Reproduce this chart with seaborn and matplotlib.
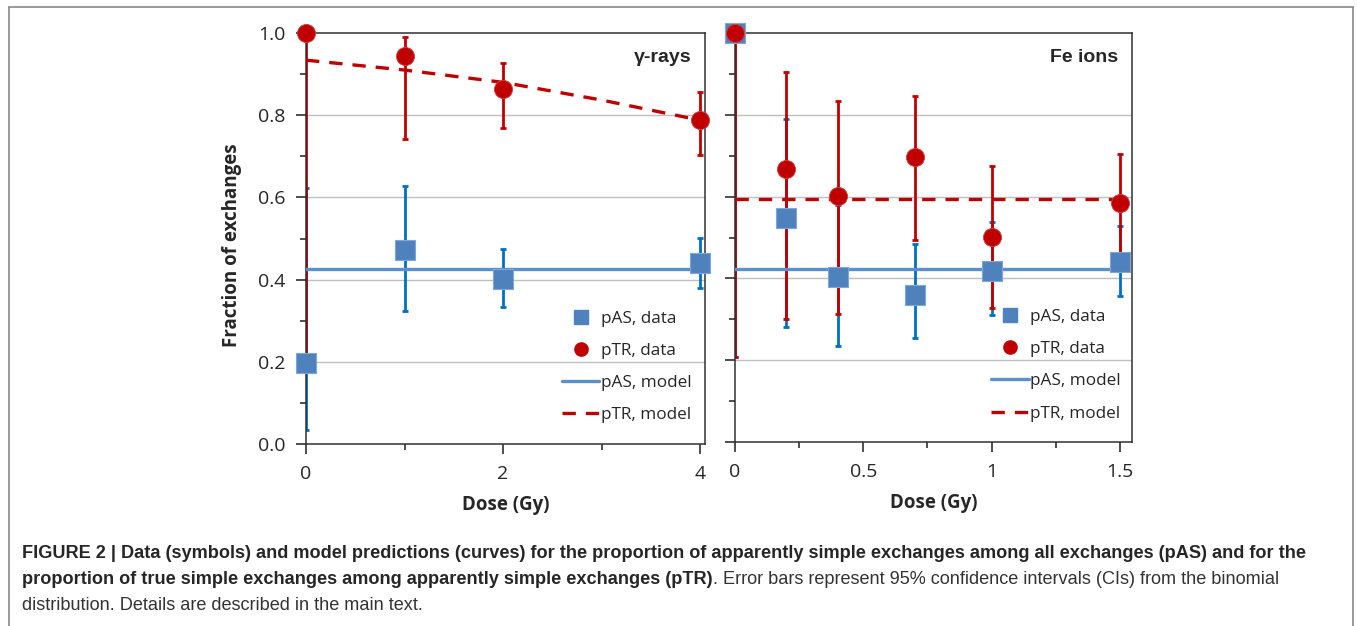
import numpy as np
import pandas as pd
import seaborn as sns
import matplotlib.pyplot as plt
from matplotlib.lines import Line2D
from matplotlib.ticker import MultipleLocator

# gamma-rays panel
gamma_dose = [0, 1, 2, 4]
gamma_pas = [0.198, 0.472, 0.401, 0.440]
gamma_pas_lo = [0.034, 0.324, 0.333, 0.379]
gamma_pas_hi = [0.624, 0.628, 0.474, 0.502]
gamma_ptr = [1.0, 0.945, 0.864, 0.788]
gamma_ptr_lo = [0.215, 0.741, 0.768, 0.703]
gamma_ptr_hi = [1.0, 0.990, 0.926, 0.856]
gamma_model_dose = [0, 1, 2, 3, 4]
gamma_pas_model = [0.425, 0.425, 0.425, 0.425, 0.425]
gamma_ptr_model = [0.934, 0.910, 0.880, 0.837, 0.788]

# Fe ions panel
fe_dose = [0, 0.2, 0.4, 0.7, 1.0, 1.5]
fe_pas = [1.0, 0.548, 0.403, 0.360, 0.419, 0.441]
fe_pas_lo = [0.208, 0.281, 0.235, 0.254, 0.310, 0.357]
fe_pas_hi = [1.0, 0.790, 0.580, 0.484, 0.539, 0.529]
fe_ptr = [1.0, 0.667, 0.602, 0.698, 0.501, 0.584]
fe_ptr_lo = [0.208, 0.300, 0.313, 0.494, 0.327, 0.440]
fe_ptr_hi = [1.0, 0.905, 0.834, 0.846, 0.676, 0.704]
fe_model_dose = [0, 1.5]
fe_pas_model = [0.422, 0.422]
fe_ptr_model = [0.594, 0.594]

BLUE_MARK = "#4F81BD"
BLUE_ERR = "#0070C0"
BLUE_LINE = "#5B8FD0"
RED = "#C00000"

sns.set_style("white")
plt.rcParams["font.family"] = ["Open Sans", "DejaVu Sans"]

fig = plt.figure(figsize=(13.57, 6.26), dpi=100)
ax1 = fig.add_axes([0.2255, 0.2907, 0.294, 0.6565])
ax2 = fig.add_axes([0.5416, 0.2939, 0.2926, 0.6534])


def draw_panel(ax, dose, pas, pas_lo, pas_hi, ptr, ptr_lo, ptr_hi,
               mdose, pas_model, ptr_model):
    for y in [0.2, 0.4, 0.6, 0.8]:
        ax.axhline(y, color="#BFBFBF", lw=1, zorder=0)
    pas = np.array(pas)
    ptr = np.array(ptr)
    ax.errorbar(dose, pas, yerr=[pas - np.array(pas_lo), np.array(pas_hi) - pas],
                fmt="none", ecolor=BLUE_ERR, elinewidth=2, capsize=2.5,
                capthick=2, zorder=2)
    ax.errorbar(dose, ptr, yerr=[ptr - np.array(ptr_lo), np.array(ptr_hi) - ptr],
                fmt="none", ecolor=RED, elinewidth=2, capsize=2.5,
                capthick=2, zorder=2)
    mdf = pd.DataFrame({"dose": mdose, "pas": pas_model, "ptr": ptr_model})
    sns.lineplot(data=mdf, x="dose", y="pas", ax=ax, color=BLUE_LINE, lw=2.4,
                 zorder=3)
    sns.lineplot(data=mdf, x="dose", y="ptr", ax=ax, color=RED, lw=2.4,
                 zorder=3).lines[-1].set_dashes((4, 3))
    ddf = pd.DataFrame({"dose": dose, "pas": pas, "ptr": ptr})
    sns.scatterplot(data=ddf, x="dose", y="pas", ax=ax, marker="s", s=200,
                    color=BLUE_MARK, edgecolor="#7EA6D8", linewidth=0.8,
                    zorder=4, clip_on=False)
    sns.scatterplot(data=ddf, x="dose", y="ptr", ax=ax, marker="o", s=170,
                    color=RED, edgecolor="#D04040", linewidth=0.6,
                    zorder=5, clip_on=False)
    ax.set_ylim(0, 1.0)
    ax.yaxis.set_major_locator(MultipleLocator(0.2))
    ax.yaxis.set_minor_locator(MultipleLocator(0.1))
    ax.tick_params(axis="both", which="major", direction="out", length=7,
                   width=1.2, color="#303030", labelsize=14, pad=8)
    ax.tick_params(axis="both", which="minor", direction="out", length=4,
                   width=1.2, color="#303030")
    ax.tick_params(axis="y", which="both", left=True)
    ax.tick_params(axis="x", which="both", bottom=True)
    for sp in ax.spines.values():
        sp.set_color("#303030")
        sp.set_linewidth(1.1)
    ax.set_xlabel("Dose (Gy)", fontsize=13.5, fontweight="bold", labelpad=9)
    ax.set_ylabel("")

    handles = [
        Line2D([], [], ls="none", marker="s", ms=9.5, color=BLUE_MARK),
        Line2D([], [], ls="none", marker="o", ms=9.5, color=RED),
        Line2D([], [], color=BLUE_LINE, lw=2.4),
        Line2D([], [], color=RED, lw=2.4, dashes=(4, 3)),
    ]
    labels = ["pAS, data", "pTR, data", "pAS, model", "pTR, model"]
    return handles, labels


legend_kw = dict(loc="lower right", frameon=False, fontsize=12.3,
                 handlelength=2.2, handletextpad=0.1, labelspacing=0.95,
                 borderpad=0, borderaxespad=0)

h, l = draw_panel(ax1, gamma_dose, gamma_pas, gamma_pas_lo, gamma_pas_hi,
                  gamma_ptr, gamma_ptr_lo, gamma_ptr_hi,
                  gamma_model_dose, gamma_pas_model, gamma_ptr_model)
ax1.set_xlim(0, 4.05)
ax1.xaxis.set_major_locator(MultipleLocator(2))
ax1.xaxis.set_minor_locator(MultipleLocator(1))
ax1.xaxis.set_major_formatter(plt.FuncFormatter(lambda v, p: f"{v:g}"))
ax1.yaxis.set_major_formatter(plt.FormatStrFormatter("%.1f"))
ax1.set_ylabel("Fraction of exchanges", fontsize=13.5, fontweight="bold")
ax1.yaxis.set_label_coords(-0.16, 0.485)
ax1.text(0.965, 0.96, "γ-rays", transform=ax1.transAxes, ha="right",
         va="top", fontsize=14, fontweight="bold", family="Liberation Sans")
ax1.legend(h, l, bbox_to_anchor=(0.967, 0.05), **legend_kw)

h, l = draw_panel(ax2, fe_dose, fe_pas, fe_pas_lo, fe_pas_hi,
                  fe_ptr, fe_ptr_lo, fe_ptr_hi,
                  fe_model_dose, fe_pas_model, fe_ptr_model)
ax2.set_xlim(0, 1.547)
ax2.xaxis.set_major_locator(MultipleLocator(0.5))
ax2.xaxis.set_minor_locator(MultipleLocator(0.25))
ax2.xaxis.set_major_formatter(plt.FuncFormatter(lambda v, p: f"{v:g}"))
ax2.tick_params(axis="y", labelleft=False)
ax2.text(0.965, 0.96, "Fe ions", transform=ax2.transAxes, ha="right",
         va="top", fontsize=14, fontweight="bold", family="Liberation Sans")
ax2.legend(h, l, bbox_to_anchor=(0.972, 0.05), **legend_kw)

# figure frame (open at the bottom)
for xs, ys in [([9, 9], [7, 626]), ([1353, 1353], [7, 626]), ([9, 1353], [7, 7])]:
    fig.add_artist(Line2D([x / 1357 for x in xs], [1 - y / 626 for y in ys],
                          color="#888888", lw=1.2))

# caption
cap_font = dict(family="Liberation Sans", fontsize=13.1)
fig.text(22 / 1357, 1 - 554 / 626,
         "FIGURE 2 | Data (symbols) and model predictions (curves) for the "
         "proportion of apparently simple exchanges among all exchanges (pAS) "
         "and for the", va="center", fontweight="bold", **cap_font)
t2 = fig.text(22 / 1357, 1 - 580 / 626,
              "proportion of true simple exchanges among apparently simple "
              "exchanges (pTR)", va="center", fontweight="bold", **cap_font)
fig.add_artist(plt.Annotation(
    ". Error bars represent 95% confidence intervals (CIs) from the binomial",
    xy=(1, 0), xycoords=t2, va="bottom", color="#333333", **cap_font))
fig.text(22 / 1357, 1 - 606 / 626,
         "distribution. Details are described in the main text.",
         va="center", color="#333333", **cap_font)

fig.savefig("out.png", dpi=100)
